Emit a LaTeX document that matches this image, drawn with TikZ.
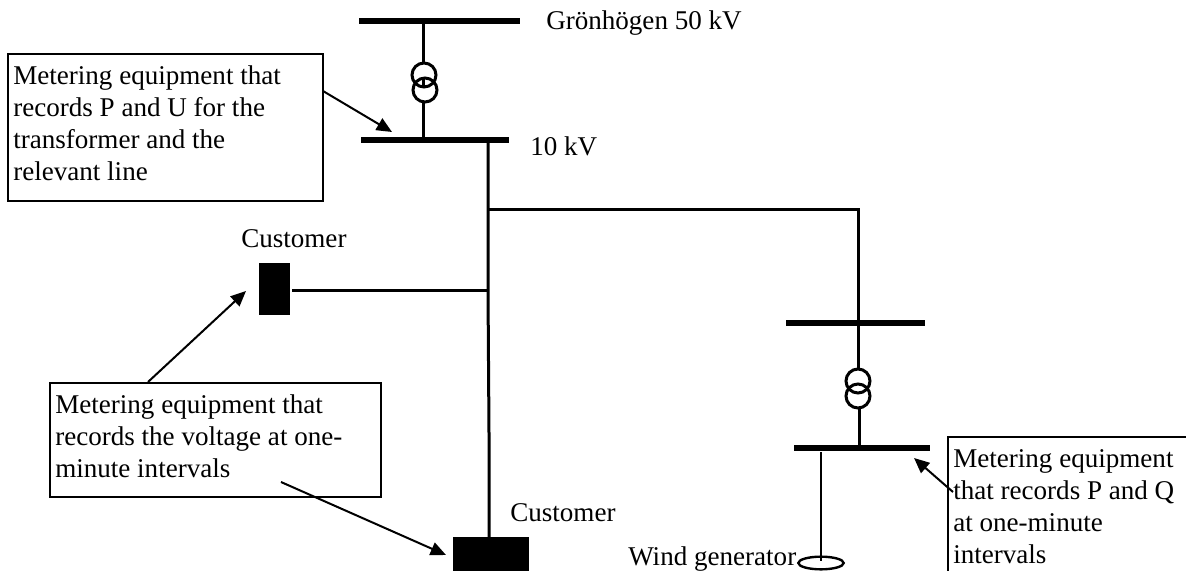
\documentclass[tikz,border=0pt]{standalone}
\usepackage{fontspec}
\setmainfont{Liberation Serif}
\usetikzlibrary{arrows.meta,shapes.geometric}
\tikzset{
  x=0.75pt,y=-0.75pt,
  bus/.style={line width=4.5pt},
  wire/.style={line width=2.25pt},
  thin wire/.style={line width=1.8pt},
  coil/.style={draw,circle,line width=2.25pt,minimum size=18pt,inner sep=0pt},
  lead/.style={line width=1.5pt,-{Triangle[length=11.5pt,width=10pt]}},
  txt/.style={font=\fontsize{20.3}{24}\selectfont,anchor=base west,inner sep=0pt},
  callout/.style={draw,line width=1.5pt,anchor=north west,inner sep=0pt,outer sep=0pt},
  calltext/.style={anchor=north west,align=left,inner sep=0pt,font=\fontsize{20.3}{24}\selectfont},
  load/.style={fill=black,inner sep=0pt,anchor=north west}
}
\begin{document}
\begin{tikzpicture}
\useasboundingbox (0,0) rectangle (1186,571);
\clip (0,0) rectangle (1186,571);
% coordinates
\coordinate (b1l) at (359,21); \coordinate (b1r) at (520,21);
\coordinate (b2l) at (361,140); \coordinate (b2r) at (509,140);
\coordinate (b3l) at (786,323); \coordinate (b3r) at (925,323);
\coordinate (b4l) at (794,448); \coordinate (b4r) at (930,448);
% busbars
\draw[bus] (b1l) -- (b1r);
\draw[bus] (b2l) -- (b2r);
\draw[bus] (b3l) -- (b3r);
\draw[bus] (b4l) -- (b4r);
% transformer 1
\node[coil] (t1a) at (424,75) {};
\node[coil] (t1b) at (425,90) {};
\coordinate (t1top) at (423,21); \coordinate (t1bot) at (423,140);
\coordinate (t1i) at (423,63); \coordinate (t1j) at (423,103);
\coordinate (t1m) at (423.5,78); \coordinate (t1n) at (423.5,86);
\draw[wire] (t1top) -- (t1i);
\draw[wire] (t1j) -- (t1bot);
\draw[wire] (t1m) -- (t1n);
% feeder
\coordinate (f0) at (488,140); \coordinate (fb) at (488,209); \coordinate (fc) at (488,290);
\coordinate (fk) at (489,433); \coordinate (fz) at (489,537);
\coordinate (fe) at (858,209); \coordinate (b3j) at (858,323);
\coordinate (c1w) at (292,290);
\node[load,minimum width=23.25pt,minimum height=39pt] (c1) at (259,263) {};
\node[load,minimum width=57pt,minimum height=30pt] (c2) at (453,537) {};
\draw[wire] (f0) -- (fb) -- (fc) -- (fk) -- (fz);
\draw[wire] (fb) -- (fe) -- (b3j);
\draw[wire] (c1w) -- (fc);
% transformer 2
\node[coil] (t2a) at (858,381) {};
\node[coil] (t2b) at (858,396) {};
\coordinate (t2j) at (859,407); \coordinate (t2k) at (859,448);
\draw[wire] (b3j) -- (t2a.north);
\draw[wire] (t2j) -- (t2k);
% generator
\node[draw,ellipse,line width=1.8pt,minimum width=34pt,minimum height=9.5pt,inner sep=0pt] (g) at (821,563) {};
\coordinate (gt) at (821,452);
\coordinate (gc) at (821,561);
\draw[thin wire] (gt) -- (gc);
% texts
\node[txt] (tg) at (546,30) {Grönhögen 50 kV};
\node[txt] (t10) at (530,155) {10 kV};
\node[txt] (tc1) at (241,247) {Customer};
\node[txt] (tc2) at (510,521) {Customer};
\node[txt] (tw) at (628,565) {Wind generator};
% callouts
\node[callout,minimum width=236.25pt,minimum height=110.25pt] (m1) at (8,54) {};
\node[calltext] (m1t) at (13,65) {Metering equipment that\\records P and U for the\\transformer and the\\relevant line};
\node[callout,minimum width=248.25pt,minimum height=85.5pt] (m2) at (50,383) {};
\node[calltext] (m2t) at (55,394) {Metering equipment that\\records the voltage at one-\\minute intervals};
\node[callout,minimum width=200pt,minimum height=110pt] (m3) at (948,437) {};
\node[calltext] (m3t) at (953,449) {Metering equipment\\that records P and Q\\at one-minute\\intervals};
% arrows
\coordinate (a1s) at (323,91); \coordinate (a1e) at (392,132);
\coordinate (a2s) at (148,382); \coordinate (a2e) at (246,291);
\coordinate (a3s) at (281,482); \coordinate (a3e) at (446,555);
\coordinate (a4s) at (953,492); \coordinate (a4e) at (914,458);
\draw[lead] (a1s) -- (a1e);
\draw[lead] (a2s) -- (a2e);
\draw[lead] (a3s) -- (a3e);
\draw[lead] (a4s) -- (a4e);
\end{tikzpicture}
\end{document}
